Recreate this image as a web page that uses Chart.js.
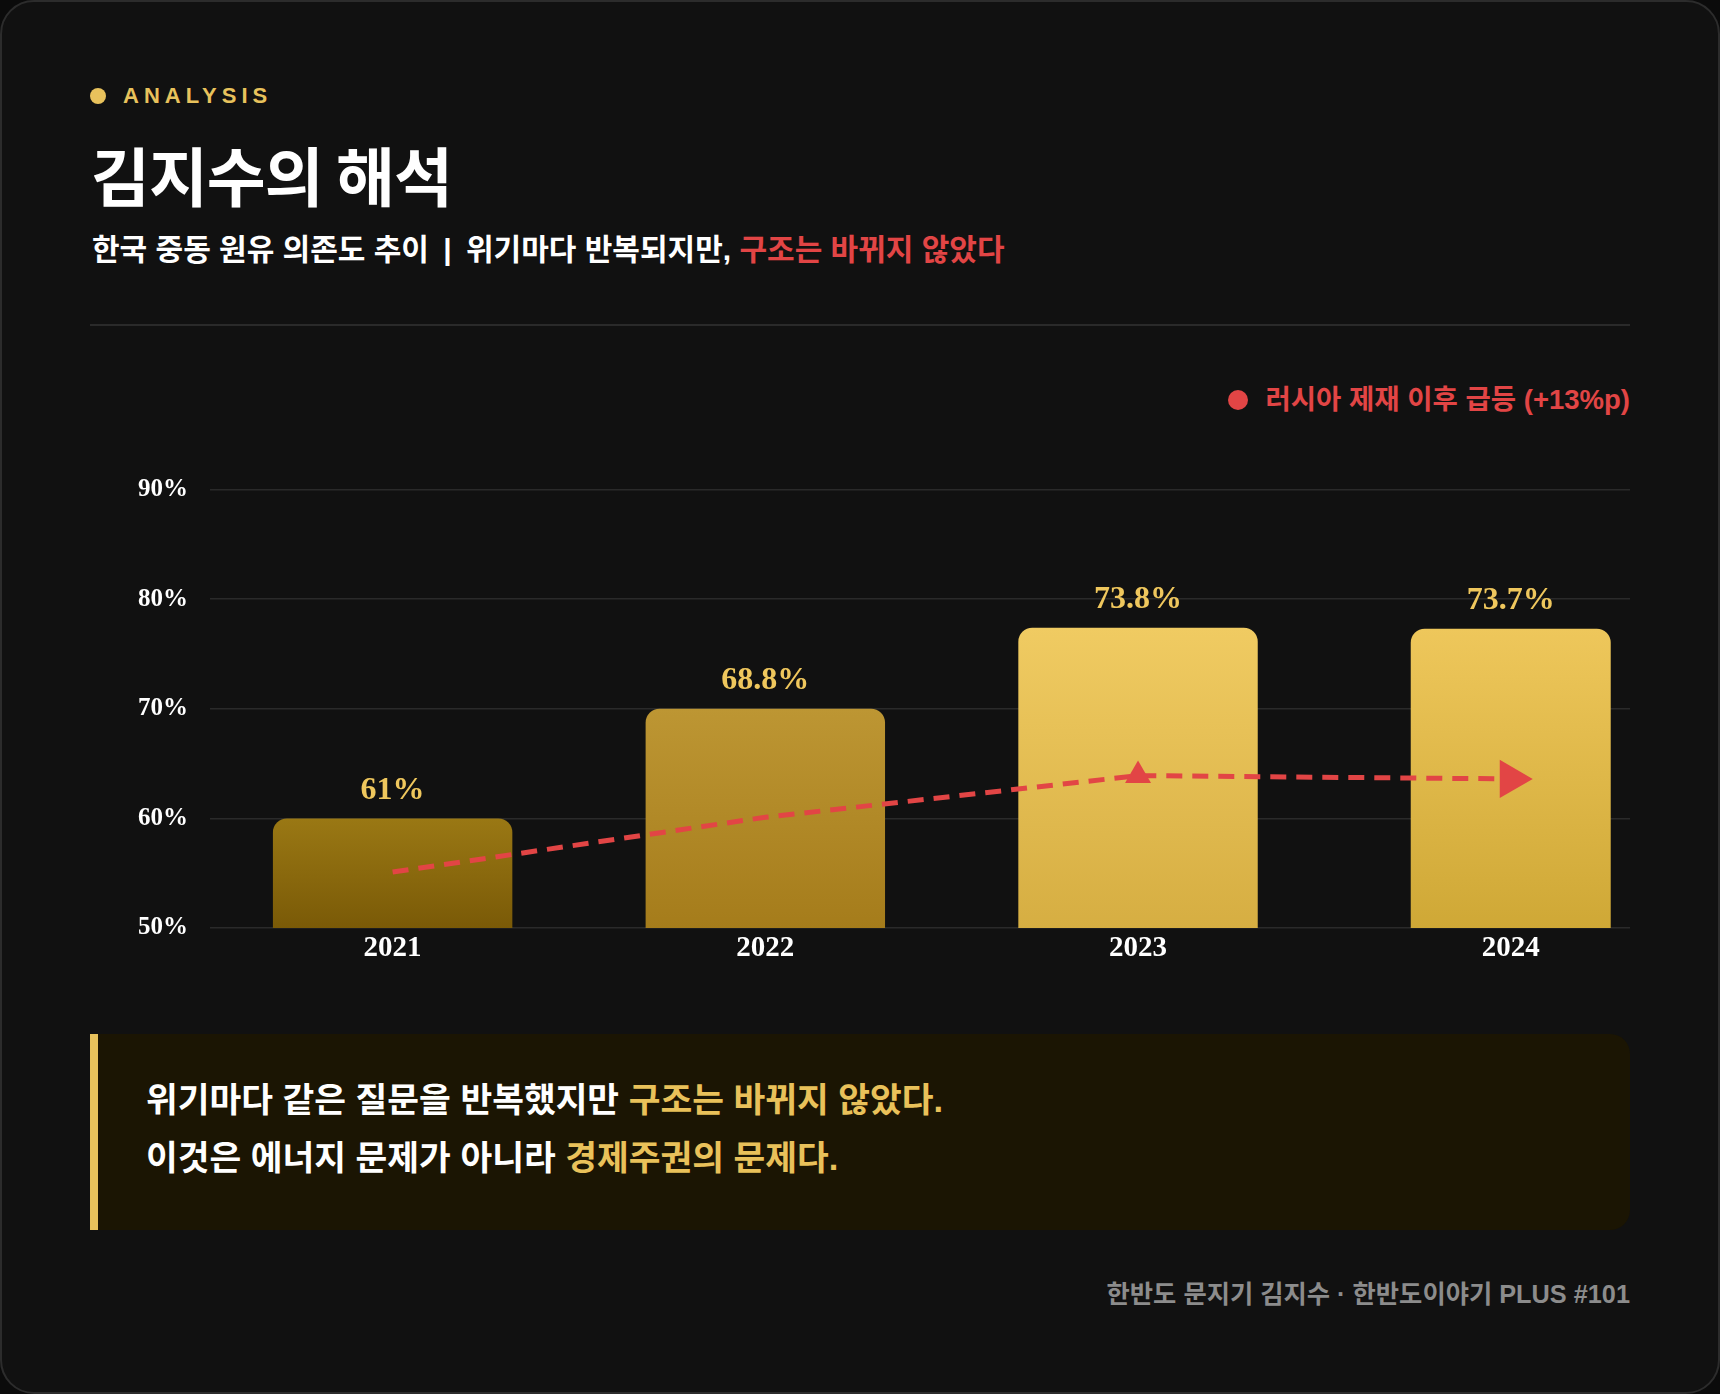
<!DOCTYPE html>
<html><head><meta charset="utf-8">
<script src="https://cdn.jsdelivr.net/npm/chart.js@4.4.1/dist/chart.umd.min.js"></script>
<style>
html,body{margin:0;padding:0;background:#0b0b0b;}
body{width:1720px;height:1394px;position:relative;overflow:hidden;font-family:"Liberation Sans","Noto Sans CJK KR",sans-serif;}
.card{position:absolute;left:0;top:0;width:1720px;height:1394px;box-sizing:border-box;border:2px solid #2c2c2c;border-radius:34px;background:#111111;}
.tag{position:absolute;left:90px;top:85px;height:22px;display:flex;align-items:center;}
.tag .dot{width:16px;height:16px;border-radius:50%;background:#e8c25c;margin-right:17px;}
.tag span{font-size:22px;line-height:22px;font-weight:700;letter-spacing:5px;color:#e8c25c;}
h1{position:absolute;left:91px;top:141px;margin:0;font-size:64px;line-height:64px;font-weight:700;color:#fff;font-family:"Noto Sans CJK KR",sans-serif;letter-spacing:-1px;}
.sub{position:absolute;left:92px;top:235px;font-size:30px;line-height:30px;font-weight:700;color:#fff;white-space:nowrap;}
.sub .pipe{margin:0 6px;}
.sub .red{color:#e24545;}
.rule{position:absolute;left:90px;top:324px;width:1540px;height:2px;background:#2a2a2a;}
.legend{position:absolute;right:90px;top:386px;height:28px;display:flex;align-items:center;}
.legend .dot{width:20px;height:20px;border-radius:50%;background:#e24545;margin-right:18px;}
.legend span{font-size:27.5px;line-height:28px;font-weight:700;color:#e24545;white-space:nowrap;}
.chartbox{position:absolute;left:90px;top:440px;width:1540px;height:540px;}
.callout{position:absolute;left:90px;top:1034px;width:1540px;height:196px;box-sizing:border-box;background:#1b1503;border-left:8px solid #e8c25c;border-radius:0 20px 20px 0;padding:37px 0 0 48px;}
.callout p{margin:0;font-size:34.5px;line-height:58px;font-weight:700;color:#fff;white-space:nowrap;}
.callout .gold{color:#e9c15a;}
.footer{position:absolute;right:90px;top:1281px;font-size:25.3px;line-height:26px;font-weight:700;color:#8c8c8c;white-space:nowrap;}
</style></head>
<body>
<div class="card"></div>
<div class="tag"><div class="dot"></div><span>ANALYSIS</span></div>
<h1>김지수의 해석</h1>
<div class="sub">한국 중동 원유 의존도 추이 <span class="pipe">|</span> 위기마다 반복되지만, <span class="red">구조는 바뀌지 않았다</span></div>
<div class="rule"></div>
<div class="legend"><div class="dot"></div><span>러시아 제재 이후 급등 (+13%p)</span></div>
<div class="chartbox"><canvas id="c"></canvas></div>
<div class="callout">
<p>위기마다 같은 질문을 반복했지만 <span class="gold">구조는 바뀌지 않았다.</span></p>
<p>이것은 에너지 문제가 아니라 <span class="gold">경제주권의 문제다.</span></p>
</div>
<div class="footer">한반도 문지기 김지수 · 한반도이야기 PLUS #101</div>
<script>
const years = [2021, 2022, 2023, 2024];
const barValues = [60, 70, 77.4, 77.3];
const valueLabels = ['61%', '68.8%', '73.8%', '73.7%'];
const trendValues = [55.1, 60.1, 63.9, 63.6];
const yTicks = [50, 60, 70, 80, 90];
const yTickLabels = ['50%', '60%', '70%', '80%', '90%'];

const barTopColors = ['#9a7814', '#bd9633', '#f0cb62', '#eec75b'];
const barBottomColors = ['#7a5a07', '#a57c1b', '#d6ae42', '#cfa836'];
const RED = '#e24545';
const serif = '"Liberation Serif", "Times New Roman", serif';

function barFill(ctx) {
  const chart = ctx.chart;
  if (!chart.chartArea || !ctx.raw) return barTopColors[0];
  const i = years.indexOf(ctx.raw.x);
  const ys = chart.scales.y;
  const top = ys.getPixelForValue(ctx.raw.y);
  const bot = ys.getPixelForValue(yTicks[0]);
  const g = chart.ctx.createLinearGradient(0, top, 0, bot);
  g.addColorStop(0, barTopColors[i]);
  g.addColorStop(1, barBottomColors[i]);
  return g;
}

const mainIdx = [0, 1, 2];
const lastIdx = [3];

const valueLabelPlugin = {
  id: 'valueLabels',
  afterDatasetsDraw(chart) {
    const c = chart.ctx;
    c.save();
    c.font = 'bold 32px ' + serif;
    c.fillStyle = '#efc75d';
    c.textAlign = 'center';
    c.textBaseline = 'middle';
    chart.data.datasets.forEach((ds, di) => {
      if (ds.type !== 'bar') return;
      const meta = chart.getDatasetMeta(di);
      meta.data.forEach((el, j) => {
        const i = years.indexOf(ds.data[j].x);
        c.fillText(valueLabels[i], el.x, el.y - 28);
      });
    });
    c.restore();
  }
};

new Chart(document.getElementById('c'), {
  data: {
    datasets: [
      {
        type: 'line',
        order: 0,
        data: years.map((y, i) => ({ x: y, y: trendValues[i] })),
        borderColor: RED,
        borderWidth: 5,
        borderDash: [16, 10],
        tension: 0,
        fill: false,
        pointStyle: 'triangle',
        pointRadius: [0, 0, 15, 22],
        pointRotation: [0, 0, 0, 90],
        pointBackgroundColor: RED,
        pointBorderWidth: 0,
        clip: false
      },
      {
        type: 'bar',
        order: 1,
        data: mainIdx.map(i => ({ x: years[i], y: barValues[i] })),
        backgroundColor: barFill,
        borderRadius: 14,
        borderSkipped: false,
        grouped: false,
        categoryPercentage: 1,
        barPercentage: 0.6424
      },
      {
        type: 'bar',
        order: 1,
        data: lastIdx.map(i => ({ x: years[i], y: barValues[i] })),
        backgroundColor: barFill,
        borderRadius: 14,
        borderSkipped: false,
        grouped: false,
        categoryPercentage: 1,
        barPercentage: 0.5366
      }
    ]
  },
  options: {
    responsive: true,
    maintainAspectRatio: false,
    animation: false,
    layout: { autoPadding: false, padding: { top: 49.5, left: 0, right: 0, bottom: 0 } },
    plugins: { legend: { display: false }, tooltip: { enabled: false } },
    scales: {
      x: {
        type: 'linear',
        offset: false,
        min: 2020.51,
        max: 2024.32,
        grid: { display: false, offset: false },
        border: { display: false },
        afterBuildTicks(s) { s.ticks = years.map(v => ({ value: v })); },
        afterFit(s) { s.height = 52; s.paddingLeft = 0; s.paddingRight = 0; },
        ticks: {
          color: '#ffffff',
          padding: -5,
          autoSkip: false,
          maxRotation: 0,
          font: { family: serif, size: 29, weight: 'bold' },
          callback: v => String(v)
        }
      },
      y: {
        min: 50,
        max: 90,
        grid: { color: '#2a2a2a', lineWidth: 1.5, drawTicks: false },
        border: { display: false },
        afterBuildTicks(s) { s.ticks = yTicks.map(v => ({ value: v })); },
        afterFit(s) { s.width = 120; },
        ticks: {
          color: '#ffffff',
          padding: 22,
          font: { family: serif, size: 25, weight: 'bold' },
          callback: v => yTickLabels[yTicks.indexOf(v)]
        }
      }
    }
  },
  plugins: [valueLabelPlugin]
});
</script>
</body></html>
